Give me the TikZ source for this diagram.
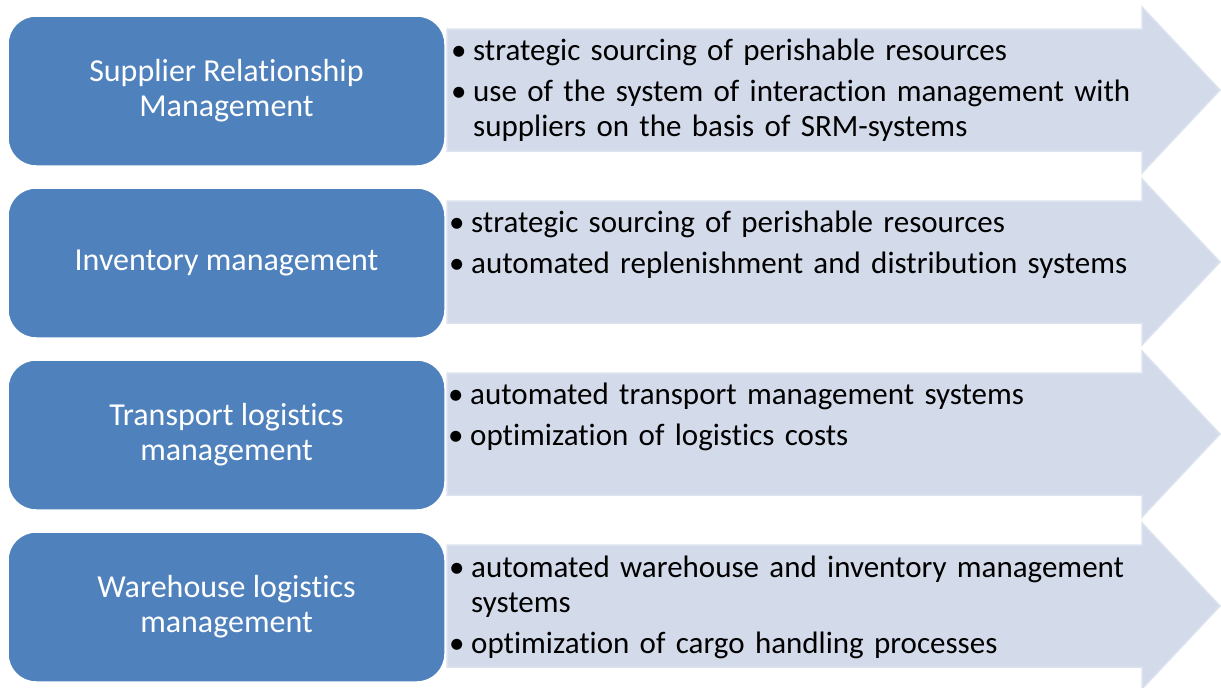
\documentclass[tikz,border=0pt]{standalone}
\usepackage{fontspec}
\setmainfont{Carlito}[Ligatures=NoCommon]
\definecolor{boxblue}{HTML}{4F81BD}
\definecolor{arrowfill}{HTML}{D3DAE9}
\definecolor{arrowline}{HTML}{DCE2EE}
\newcommand{\bl}[1]{\noindent\hangindent=22pt\hangafter=1\makebox[22pt][l]{\textbullet}\strut#1\par}
\begin{document}
\begin{tikzpicture}[x=1pt,y=-1pt,
  catbox/.style={fill=boxblue, draw=white, line width=1.5pt, rounded corners=28pt,
    minimum width=437pt, minimum height=150pt, text=white, align=center,
    font=\fontsize{32}{35}\selectfont, inner sep=0pt},
  arrowshape/.style={fill=arrowfill, draw=arrowline, line width=1.5pt},
  listtext/.style={anchor=north west, text width=740pt, align=left,
    font=\fontsize{31}{35}\selectfont, inner sep=0pt}]
\useasboundingbox (0,0) rectangle (1221,688);
\foreach \c in {90,262,434,606}{
  \draw[arrowshape] (447,\c-61) -- (1142,\c-61) -- (1142,\c-83) -- (1220,\c)
    -- (1142,\c+83) -- (1142,\c+61) -- (447,\c+61) -- cycle;
}
\node[catbox] (b1) at (226.5,91) {Supplier Relationship\\Management};
\node[catbox] (b2) at (226.5,263) {Inventory management};
\node[catbox] (b3) at (226.5,435) {Transport logistics\\management};
\node[catbox] (b4) at (226.5,607) {Warehouse logistics\\management};

\node[listtext] (t1) at (451,36) {%
  \bl{strategic sourcing of perishable resources}\vspace{6pt}%
  \bl{use of the system of interaction management with\newline suppliers on the basis of SRM-systems}};
\node[listtext] (t2) at (449,208) {%
  \bl{strategic sourcing of perishable resources}\vspace{6pt}%
  \bl{automated replenishment and distribution systems}};
\node[listtext] (t3) at (448,380) {%
  \bl{automated transport management systems}\vspace{6pt}%
  \bl{optimization of logistics costs}};
\node[listtext] (t4) at (449,553) {%
  \bl{automated warehouse and inventory management\newline systems}\vspace{6pt}%
  \bl{optimization of cargo handling processes}};
\end{tikzpicture}
\end{document}
